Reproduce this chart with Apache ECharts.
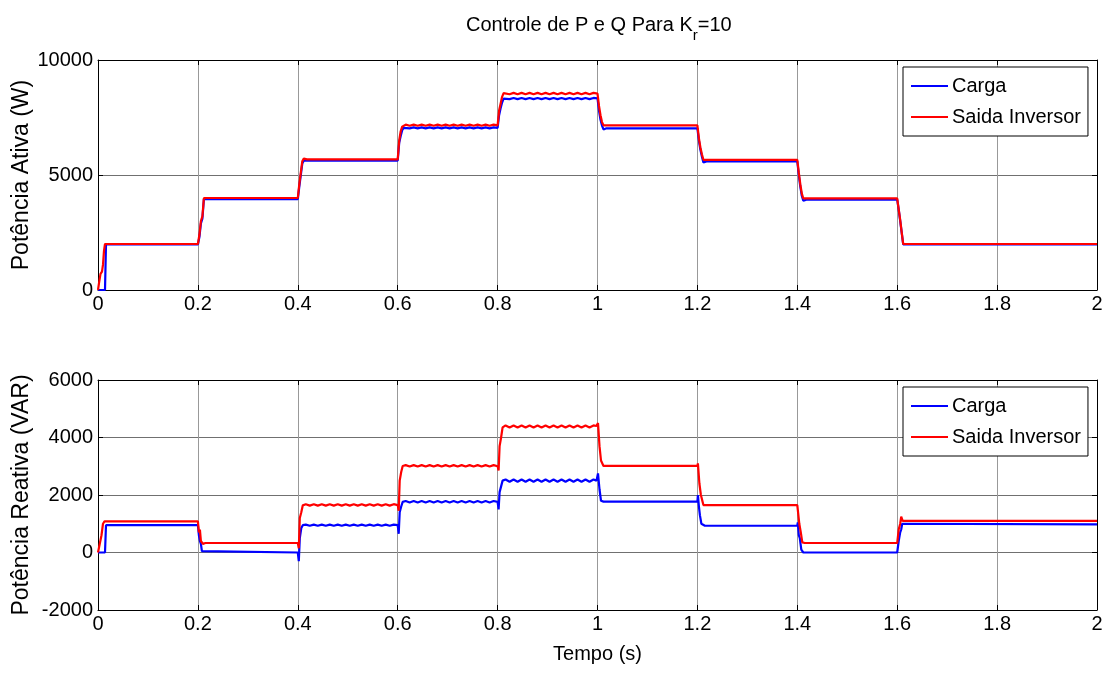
<!DOCTYPE html>
<html>
<head>
<meta charset="utf-8">
<script src="https://cdn.jsdelivr.net/npm/echarts@6/dist/echarts.min.js"></script>
<style>
html,body{margin:0;padding:0;background:#fff;}
#main{width:1110px;height:673px;}
</style>
</head>
<body>
<div id="main"></div>
<script>
// ---- Data (time in s, value) ----
var seriesNames = ['Carga', 'Saida Inversor'];
var xTicks = ['0','0.2','0.4','0.6','0.8','1','1.2','1.4','1.6','1.8','2'];
var pTicks = ['0','5000','10000'];
var qTicks = ['-2000','0','2000','4000','6000'];

// Potência Ativa - Carga
var pCarga = [
 [0,0],[0.014,0],[0.016,1980],
 [0.2,1980],[0.203,2300],[0.206,2900],[0.209,3100],[0.212,3950],
 [0.4,3950],[0.403,4500],[0.406,5000],[0.409,5500],[0.412,5620],
 [0.6,5620],[0.603,6400],[0.606,6700],[0.609,6950],[0.612,7050],
 [0.616,7070],[0.624,7030],[0.632,7070],[0.64,7030],[0.648,7070],[0.656,7030],[0.664,7070],[0.672,7030],
 [0.68,7070],[0.688,7030],[0.696,7070],[0.704,7030],[0.712,7070],[0.72,7030],[0.728,7070],[0.736,7030],
 [0.744,7070],[0.752,7030],[0.76,7070],[0.768,7030],[0.776,7070],[0.784,7030],[0.792,7070],
 [0.8,7050],[0.803,7600],[0.806,7900],[0.809,8150],[0.812,8320],
 [0.816,8350],[0.824,8300],[0.832,8350],[0.84,8300],[0.848,8350],[0.856,8300],[0.864,8350],[0.872,8300],
 [0.88,8350],[0.888,8300],[0.896,8350],[0.904,8300],[0.912,8350],[0.92,8300],[0.928,8350],[0.936,8300],
 [0.944,8350],[0.952,8300],[0.96,8350],[0.968,8300],[0.976,8350],[0.984,8300],[0.992,8350],
 [1.0,8330],[1.003,7800],[1.006,7400],[1.009,7150],[1.012,6980],[1.018,7030],
 [1.2,7030],[1.203,6500],[1.206,6100],[1.209,5800],[1.212,5540],[1.218,5590],
 [1.4,5590],[1.403,5000],[1.406,4500],[1.409,4100],[1.412,3880],[1.418,3930],
 [1.6,3930],[1.603,3500],[1.606,3000],[1.609,2500],[1.612,1980],[2,1980]
];
// Potência Ativa - Saida Inversor
var pInversor = [
 [0,0],[0.002,300],[0.005,700],[0.008,800],[0.01,1100],[0.012,1700],[0.014,2000],
 [0.2,2000],[0.203,2400],[0.206,3000],[0.209,3200],[0.212,4000],
 [0.4,4000],[0.403,4600],[0.406,5100],[0.409,5600],[0.412,5720],[0.418,5680],
 [0.6,5680],[0.603,6500],[0.606,6900],[0.609,7100],[0.612,7180],
 [0.616,7190],[0.624,7140],[0.632,7190],[0.64,7140],[0.648,7190],[0.656,7140],[0.664,7190],[0.672,7140],
 [0.68,7190],[0.688,7140],[0.696,7190],[0.704,7140],[0.712,7190],[0.72,7140],[0.728,7190],[0.736,7140],
 [0.744,7190],[0.752,7140],[0.76,7190],[0.768,7140],[0.776,7190],[0.784,7140],[0.792,7190],
 [0.8,7160],[0.803,7800],[0.806,8100],[0.809,8400],[0.812,8560],
 [0.816,8570],[0.824,8510],[0.832,8570],[0.84,8510],[0.848,8570],[0.856,8510],[0.864,8570],[0.872,8510],
 [0.88,8570],[0.888,8510],[0.896,8570],[0.904,8510],[0.912,8570],[0.92,8510],[0.928,8570],[0.936,8510],
 [0.944,8570],[0.952,8510],[0.96,8570],[0.968,8510],[0.976,8570],[0.984,8510],[0.992,8570],
 [1.0,8540],[1.003,8000],[1.006,7600],[1.009,7300],[1.012,7160],[1.016,7160],
 [1.2,7160],[1.203,6600],[1.206,6200],[1.209,5900],[1.212,5660],
 [1.4,5660],[1.403,5100],[1.406,4600],[1.409,4200],[1.412,3980],
 [1.6,3980],[1.603,3500],[1.606,3050],[1.609,2500],[1.612,2000],[2,2000]
];
// Potência Reativa - Carga
var qCarga = [
 [0,0],[0.014,0],[0.016,950],
 [0.2,950],[0.202,600],[0.204,400],[0.206,300],[0.208,50],[0.212,0],
 [0.4,0],[0.402,-300],[0.404,500],[0.407,850],[0.41,950],
 [0.416,970],[0.424,930],[0.432,970],[0.44,930],[0.448,970],[0.456,930],[0.464,970],[0.472,930],
 [0.48,970],[0.488,930],[0.496,970],[0.504,930],[0.512,970],[0.52,930],[0.528,970],[0.536,930],
 [0.544,970],[0.552,930],[0.56,970],[0.568,930],[0.576,970],[0.584,930],[0.592,970],
 [0.6,950],[0.602,650],[0.604,1400],[0.607,1600],[0.61,1760],
 [0.616,1790],[0.624,1740],[0.632,1790],[0.64,1740],[0.648,1790],[0.656,1740],[0.664,1790],[0.672,1740],
 [0.68,1790],[0.688,1740],[0.696,1790],[0.704,1740],[0.712,1790],[0.72,1740],[0.728,1790],[0.736,1740],
 [0.744,1790],[0.752,1740],[0.76,1790],[0.768,1740],[0.776,1790],[0.784,1740],[0.792,1790],
 [0.8,1760],[0.802,1500],[0.804,2100],[0.807,2300],[0.81,2500],
 [0.816,2540],[0.824,2460],[0.832,2540],[0.84,2460],[0.848,2540],[0.856,2460],[0.864,2540],[0.872,2460],
 [0.88,2540],[0.888,2460],[0.896,2540],[0.904,2460],[0.912,2540],[0.92,2460],[0.928,2540],[0.936,2460],
 [0.944,2540],[0.952,2460],[0.96,2540],[0.968,2460],[0.976,2540],[0.984,2460],[0.992,2540],
 [0.998,2500],[1.001,2750],[1.004,2200],[1.007,1800],[1.012,1770],
 [1.2,1770],[1.201,2000],[1.203,1600],[1.205,1300],[1.208,1000],[1.215,930],
 [1.4,930],[1.401,1050],[1.403,600],[1.405,500],[1.408,100],[1.412,0],
 [1.6,0],[1.603,400],[1.606,700],[1.608,800],[1.61,1000],[1.614,980],[2,980]
];
// Potência Reativa - Saida Inversor
var qInversor = [
 [0,0],[0.003,0],[0.007,600],[0.01,1000],[0.013,1080],
 [0.2,1080],[0.202,700],[0.204,800],[0.206,400],[0.21,300],[0.215,330],
 [0.4,330],[0.402,150],[0.404,1200],[0.407,1400],[0.41,1640],
 [0.416,1680],[0.424,1630],[0.432,1680],[0.44,1630],[0.448,1680],[0.456,1630],[0.464,1680],[0.472,1630],
 [0.48,1680],[0.488,1630],[0.496,1680],[0.504,1630],[0.512,1680],[0.52,1630],[0.528,1680],[0.536,1630],
 [0.544,1680],[0.552,1630],[0.56,1680],[0.568,1630],[0.576,1680],[0.584,1630],[0.592,1680],
 [0.6,1650],[0.602,1450],[0.604,2500],[0.607,2800],[0.61,3010],
 [0.616,3040],[0.624,2990],[0.632,3040],[0.64,2990],[0.648,3040],[0.656,2990],[0.664,3040],[0.672,2990],
 [0.68,3040],[0.688,2990],[0.696,3040],[0.704,2990],[0.712,3040],[0.72,2990],[0.728,3040],[0.736,2990],
 [0.744,3040],[0.752,2990],[0.76,3040],[0.768,2990],[0.776,3040],[0.784,2990],[0.792,3040],
 [0.8,3000],[0.802,2850],[0.804,3700],[0.807,4000],[0.81,4350],
 [0.816,4420],[0.824,4350],[0.832,4420],[0.84,4350],[0.848,4420],[0.856,4350],[0.864,4420],[0.872,4350],
 [0.88,4420],[0.888,4350],[0.896,4420],[0.904,4350],[0.912,4420],[0.92,4350],[0.928,4420],[0.936,4350],
 [0.944,4420],[0.952,4350],[0.96,4420],[0.968,4350],[0.976,4420],[0.984,4350],[0.992,4420],
 [0.998,4400],[1.001,4500],[1.004,3700],[1.007,3200],[1.012,3010],
 [1.2,3010],[1.201,3100],[1.204,2400],[1.207,2000],[1.212,1650],
 [1.4,1650],[1.401,1700],[1.404,1000],[1.407,700],[1.41,350],[1.415,330],
 [1.6,330],[1.603,800],[1.606,1000],[1.608,1250],[1.611,1100],[1.616,1100],[2,1100]
];

var FONT = 'Liberation Sans, Arial, Helvetica, sans-serif';
var chart = echarts.init(document.getElementById('main'), null, {renderer: 'canvas'});

function xAxisCfg(gridIndex, showName) {
  return {
    type: 'value', gridIndex: gridIndex, min: 0, max: 2, interval: 0.2,
    axisLine: {show: true, onZero: false, lineStyle: {color: '#000', width: 1}},
    axisTick: {show: true, inside: true, length: 5, lineStyle: {color: '#000'}},
    axisLabel: {color: '#000', fontFamily: FONT, fontSize: 20, margin: 4,
      formatter: function (v) { return xTicks[Math.round(v / 0.2)]; }},
    splitLine: {show: true, lineStyle: {color: '#999999', width: 1}},
    name: showName ? 'Tempo (s)' : '', nameLocation: 'middle', nameGap: 34, nameMoveOverlap: false,
    nameTextStyle: {color: '#000', fontFamily: FONT, fontSize: 20}
  };
}
function xTopCfg(gridIndex) {
  return {
    type: 'value', gridIndex: gridIndex, position: 'top', min: 0, max: 2, interval: 0.2,
    axisLine: {show: true, onZero: false, lineStyle: {color: '#000', width: 1}},
    axisTick: {show: true, inside: true, length: 5, lineStyle: {color: '#000'}},
    axisLabel: {show: false}, splitLine: {show: false}
  };
}
function yAxisCfg(gridIndex, min, max, interval, ticks, name) {
  return {
    type: 'value', gridIndex: gridIndex, min: min, max: max, interval: interval,
    axisLine: {show: true, onZero: false, lineStyle: {color: '#000', width: 1}},
    axisTick: {show: true, inside: true, length: 5, lineStyle: {color: '#000'}},
    axisLabel: {color: '#000', fontFamily: FONT, fontSize: 20, margin: 5,
      formatter: function (v) { return ticks[Math.round((v - min) / interval)]; }},
    splitLine: {show: true, lineStyle: {color: '#707070', width: 1}},
    name: name, nameLocation: 'middle', nameGap: 65, nameRotate: 90, nameMoveOverlap: false,
    nameTextStyle: {color: '#000', fontFamily: FONT, fontSize: 23}
  };
}
function yRightCfg(gridIndex, min, max, interval) {
  return {
    type: 'value', gridIndex: gridIndex, position: 'right', min: min, max: max, interval: interval,
    axisLine: {show: true, onZero: false, lineStyle: {color: '#000', width: 1}},
    axisTick: {show: true, inside: true, length: 5, lineStyle: {color: '#000'}},
    axisLabel: {show: false}, splitLine: {show: false}
  };
}
function lineSeries(name, data, xi, yi, color, z) {
  return {
    name: name, type: 'line', data: data, xAxisIndex: xi, yAxisIndex: yi,
    showSymbol: false, symbol: 'none', animation: false, z: z,
    lineStyle: {color: color, width: 2.2}, itemStyle: {color: color}
  };
}
function legendCfg(top) {
  return {
    data: seriesNames, orient: 'vertical', left: 903, top: top,
    padding: [7, 7, 7, 8], itemGap: 7, itemWidth: 37, itemHeight: 2,
    icon: 'rect', backgroundColor: '#fff', borderColor: '#000', borderWidth: 1,
    textStyle: {color: '#000', fontFamily: FONT, fontSize: 20, lineHeight: 24, padding: [0, 0, 0, -1]},
    selectedMode: false
  };
}

var option = {
  backgroundColor: '#fff',
  animation: false,
  title: {
    text: '{a|Controle de P e Q Para K}{s|r}{a|=10}',
    left: 461, top: 8,
    textStyle: {
      fontWeight: 'normal',
      rich: {
        a: {fontFamily: FONT, fontSize: 20, fontWeight: 'normal', color: '#000', lineHeight: 30, verticalAlign: 'top', padding: [2, 0, 0, 0]},
        s: {fontFamily: FONT, fontSize: 15, fontWeight: 'normal', color: '#000', lineHeight: 15, verticalAlign: 'bottom'}
      }
    }
  },
  grid: [
    {left: 98, right: 13, top: 60, height: 230, outerBoundsMode: 'none', containLabel: false},
    {left: 98, right: 13, top: 380, height: 230, outerBoundsMode: 'none', containLabel: false}
  ],
  legend: [legendCfg(67), legendCfg(387)],
  xAxis: [xAxisCfg(0, false), xAxisCfg(1, true), xTopCfg(0), xTopCfg(1)],
  yAxis: [
    yAxisCfg(0, 0, 10000, 5000, pTicks, 'Potência Ativa (W)'),
    yAxisCfg(1, -2000, 6000, 2000, qTicks, 'Potência Reativa (VAR)'),
    yRightCfg(0, 0, 10000, 5000),
    yRightCfg(1, -2000, 6000, 2000)
  ],
  series: [
    lineSeries('Carga', pCarga, 0, 0, '#0000ff', 2),
    lineSeries('Saida Inversor', pInversor, 0, 0, '#ff0000', 3),
    lineSeries('Carga', qCarga, 1, 1, '#0000ff', 2),
    lineSeries('Saida Inversor', qInversor, 1, 1, '#ff0000', 3)
  ]
};
chart.setOption(option);
</script>
</body>
</html>
